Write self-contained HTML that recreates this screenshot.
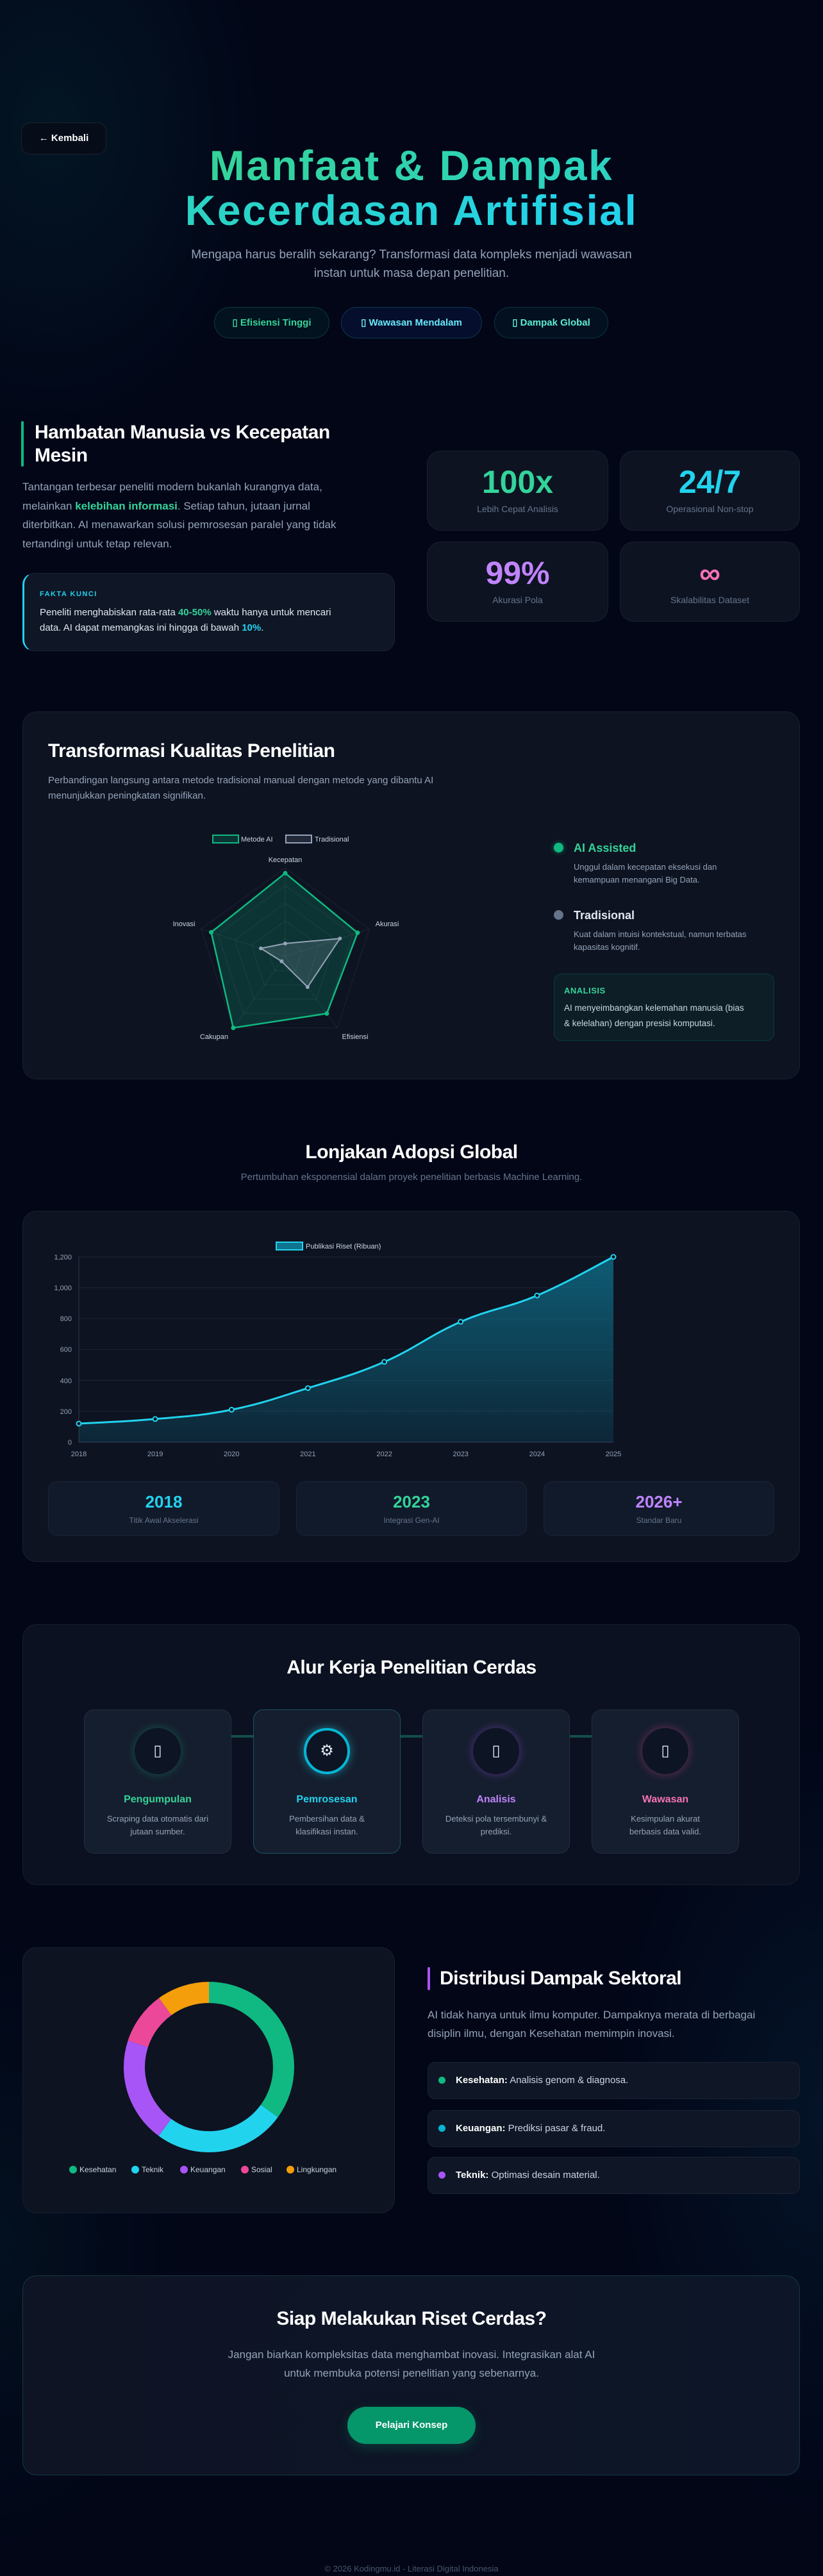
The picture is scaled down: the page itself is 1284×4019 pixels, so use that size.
<!DOCTYPE html>
<html><head><meta charset="utf-8">
<style>
*{margin:0;padding:0;box-sizing:border-box}
html,body{width:1284px;height:4019px;overflow:hidden}
body{position:relative;font-family:"Liberation Sans",sans-serif;color:#e2e8f0;
background:
radial-gradient(ellipse 500px 700px at 80px 200px, rgba(6,50,60,0.35), rgba(0,0,0,0) 70%),
radial-gradient(ellipse 500px 900px at 1284px 3300px, rgba(8,45,70,0.35), rgba(0,0,0,0) 70%),
radial-gradient(ellipse 400px 700px at 0px 3500px, rgba(6,40,50,0.3), rgba(0,0,0,0) 70%),
#020617;}
.a{position:absolute;white-space:nowrap}
.card{position:absolute;background:#0d1321;border:1px solid rgba(148,163,184,0.09);border-radius:22px}
.c{text-align:center}
.muted{color:#94a3b8}
.h2{font-size:30px;font-weight:700;color:#fff;letter-spacing:-0.5px}
svg text{font-family:"Liberation Sans",sans-serif}
</style></head><body>

<!-- HERO -->
<div class="a" style="left:33px;top:191px;width:133px;height:50px;border:1px solid rgba(148,163,184,0.14);border-radius:14px;background:#070d18;color:#fff;font-size:15px;font-weight:700;line-height:48px;text-align:center">← Kembali</div>
<div class="a c" style="left:0;top:223px;width:1284px;font-size:66px;font-weight:700;line-height:70px;letter-spacing:2.5px;">
<span style="background:linear-gradient(90deg,#34d399,#22d3ee);-webkit-background-clip:text;background-clip:text;color:transparent">Manfaat &amp; Dampak<br>Kecerdasan Artifisial</span></div>
<div class="a c muted" style="left:0;top:383px;width:1284px;font-size:19px;line-height:29px">Mengapa harus beralih sekarang? Transformasi data kompleks menjadi wawasan<br>instan untuk masa depan penelitian.</div>
<div class="a c" style="left:334px;top:479px;width:180px;height:49px;border-radius:25px;border:1px solid rgba(52,211,153,0.22);background:rgba(16,185,129,0.07);color:#34d399;font-size:15px;font-weight:700;line-height:47px">▯ Efisiensi Tinggi</div>
<div class="a c" style="left:532px;top:479px;width:220px;height:49px;border-radius:25px;border:1px solid rgba(34,211,238,0.22);background:rgba(30,64,175,0.14);color:#67e8f9;font-size:15px;font-weight:700;line-height:47px">▯ Wawasan Mendalam</div>
<div class="a c" style="left:771px;top:479px;width:178px;height:49px;border-radius:25px;border:1px solid rgba(45,212,191,0.2);background:rgba(20,184,166,0.06);color:#5eead4;font-size:15px;font-weight:700;line-height:47px">▯ Dampak Global</div>

<!-- SECTION 2 -->
<div class="a" style="left:33px;top:657px;width:4px;height:71px;background:#10b981;border-radius:2px"></div>
<div class="a h2" style="left:54px;top:657px;line-height:36px">Hambatan Manusia vs Kecepatan<br>Mesin</div>
<div class="a muted" style="left:35px;top:745px;font-size:17px;line-height:29.5px">Tantangan terbesar peneliti modern bukanlah kurangnya data,<br>melainkan <b style="color:#34d399">kelebihan informasi</b>. Setiap tahun, jutaan jurnal<br>diterbitkan. AI menawarkan solusi pemrosesan paralel yang tidak<br>tertandingi untuk tetap relevan.</div>
<div class="a" style="left:35px;top:894px;width:581px;height:122px;border-radius:18px;background:#0f1626;border:1px solid rgba(148,163,184,0.1);border-left:3px solid #22d3ee"></div>
<div class="a" style="left:62px;top:920px;font-size:11px;font-weight:700;color:#22d3ee;letter-spacing:1.5px;line-height:14px">FAKTA KUNCI</div>
<div class="a" style="left:62px;top:944px;font-size:15px;line-height:24px;color:#e2e8f0">Peneliti menghabiskan rata-rata <b style="color:#34d399">40-50%</b> waktu hanya untuk mencari<br>data. AI dapat memangkas ini hingga di bawah <b style="color:#22d3ee">10%</b>.</div>

<div class="card" style="left:666px;top:703px;width:283px;height:125px"></div>
<div class="card" style="left:967px;top:703px;width:281px;height:125px"></div>
<div class="card" style="left:666px;top:845px;width:283px;height:125px"></div>
<div class="card" style="left:967px;top:845px;width:281px;height:125px"></div>
<div class="a c" style="left:666px;top:722px;width:283px;font-size:50px;font-weight:700;line-height:60px;color:#34d399">100x</div>
<div class="a c" style="left:967px;top:722px;width:281px;font-size:50px;font-weight:700;line-height:60px;color:#22d3ee">24/7</div>
<div class="a c" style="left:666px;top:864px;width:283px;font-size:50px;font-weight:700;line-height:60px;color:#c084fc">99%</div>
<div class="a c" style="left:967px;top:864px;width:281px;font-size:46px;font-weight:700;line-height:60px;color:#f472b6">∞</div>
<div class="a c" style="left:666px;top:785px;width:283px;font-size:14px;color:#64748b;line-height:18px">Lebih Cepat Analisis</div>
<div class="a c" style="left:967px;top:785px;width:281px;font-size:14px;color:#64748b;line-height:18px">Operasional Non-stop</div>
<div class="a c" style="left:666px;top:927px;width:283px;font-size:14px;color:#64748b;line-height:18px">Akurasi Pola</div>
<div class="a c" style="left:967px;top:927px;width:281px;font-size:14px;color:#64748b;line-height:18px">Skalabilitas Dataset</div>

<!-- SECTION 3 radar card -->
<div class="card" style="left:35px;top:1110px;width:1213px;height:574px"></div>
<div class="a h2" style="left:75px;top:1152px;line-height:40px">Transformasi Kualitas Penelitian</div>
<div class="a muted" style="left:75px;top:1206px;font-size:15px;line-height:24px">Perbandingan langsung antara metode tradisional manual dengan metode yang dibantu AI<br>menunjukkan peningkatan signifikan.</div>
<div class="a" style="left:864px;top:1315px;width:15px;height:15px;border-radius:50%;background:#10b981;box-shadow:0 0 8px rgba(16,185,129,0.6)"></div>
<div class="a" style="left:895px;top:1311px;font-size:18px;font-weight:700;color:#34d399;line-height:24px">AI Assisted</div>
<div class="a muted" style="left:895px;top:1343px;font-size:13px;line-height:20px">Unggul dalam kecepatan eksekusi dan<br>kemampuan menangani Big Data.</div>
<div class="a" style="left:864px;top:1420px;width:15px;height:15px;border-radius:50%;background:#64748b"></div>
<div class="a" style="left:895px;top:1416px;font-size:18px;font-weight:700;color:#e2e8f0;line-height:24px">Tradisional</div>
<div class="a muted" style="left:895px;top:1448px;font-size:13px;line-height:20px">Kuat dalam intuisi kontekstual, namun terbatas<br>kapasitas kognitif.</div>
<div class="a" style="left:864px;top:1519px;width:344px;height:105px;border-radius:12px;background:rgba(16,185,129,0.07);border:1px solid rgba(16,185,129,0.2)"></div>
<div class="a" style="left:880px;top:1538px;font-size:13px;font-weight:700;color:#34d399;line-height:16px;letter-spacing:0.5px">ANALISIS</div>
<div class="a" style="left:880px;top:1561px;font-size:13.5px;color:#cbd5e1;line-height:24px">AI menyeimbangkan kelemahan manusia (bias<br>&amp; kelelahan) dengan presisi komputasi.</div>

<!-- SECTION 4 line chart -->
<div class="a c h2" style="left:0;top:1778px;width:1284px;line-height:40px">Lonjakan Adopsi Global</div>
<div class="a c" style="left:0;top:1827px;width:1284px;font-size:15px;color:#64748b;line-height:20px">Pertumbuhan eksponensial dalam proyek penelitian berbasis Machine Learning.</div>
<div class="card" style="left:35px;top:1889px;width:1213px;height:548px"></div>
<div class="a" style="left:75px;top:2311px;width:361px;height:85px;border-radius:14px;background:#111a2b;border:1px solid rgba(148,163,184,0.08)"></div>
<div class="a" style="left:462px;top:2311px;width:360px;height:85px;border-radius:14px;background:#111a2b;border:1px solid rgba(148,163,184,0.08)"></div>
<div class="a" style="left:848px;top:2311px;width:360px;height:85px;border-radius:14px;background:#111a2b;border:1px solid rgba(148,163,184,0.08)"></div>
<div class="a c" style="left:75px;top:2328px;width:361px;font-size:26px;font-weight:700;color:#22d3ee;line-height:30px">2018</div>
<div class="a c" style="left:462px;top:2328px;width:360px;font-size:26px;font-weight:700;color:#34d399;line-height:30px">2023</div>
<div class="a c" style="left:848px;top:2328px;width:360px;font-size:26px;font-weight:700;color:#c084fc;line-height:30px">2026+</div>
<div class="a c" style="left:75px;top:2364px;width:361px;font-size:12px;color:#64748b;line-height:16px">Titik Awal Akselerasi</div>
<div class="a c" style="left:462px;top:2364px;width:360px;font-size:12px;color:#64748b;line-height:16px">Integrasi Gen-AI</div>
<div class="a c" style="left:848px;top:2364px;width:360px;font-size:12px;color:#64748b;line-height:16px">Standar Baru</div>

<!-- SECTION 5 workflow -->
<div class="card" style="left:35px;top:2534px;width:1213px;height:407px;background:#0b1120"></div>
<div class="a c h2" style="left:0;top:2582px;width:1284px;line-height:40px">Alur Kerja Penelitian Cerdas</div>
<div class="a" style="left:361px;top:2707px;width:34px;height:4px;background:#134e4a"></div>
<div class="a" style="left:625px;top:2707px;width:34px;height:4px;background:#134e4a"></div>
<div class="a" style="left:889px;top:2707px;width:34px;height:4px;background:#134e4a"></div>
<div class="a" style="left:131px;top:2667px;width:230px;height:225px;border-radius:16px;background:#151e2e;border:1px solid rgba(148,163,184,0.12)"></div>
<div class="a" style="left:395px;top:2667px;width:230px;height:225px;border-radius:16px;background:#151e2e;border:1px solid rgba(34,211,238,0.3)"></div>
<div class="a" style="left:659px;top:2667px;width:230px;height:225px;border-radius:16px;background:#151e2e;border:1px solid rgba(148,163,184,0.12)"></div>
<div class="a" style="left:923px;top:2667px;width:230px;height:225px;border-radius:16px;background:#151e2e;border:1px solid rgba(148,163,184,0.12)"></div>
<div class="a c" style="left:210px;top:2696px;width:72px;height:72px;border-radius:50%;background:#0d1424;box-shadow:0 0 14px rgba(16,185,129,0.35);color:#e2e8f0;font-size:24px;line-height:72px">▯</div>
<div class="a c" style="left:474px;top:2696px;width:72px;height:72px;border-radius:50%;background:#0d1424;border:4px solid #06b6d4;box-shadow:0 0 14px rgba(34,211,238,0.5);color:#e2e8f0;font-size:24px;line-height:64px">⚙</div>
<div class="a c" style="left:738px;top:2696px;width:72px;height:72px;border-radius:50%;background:#0d1424;box-shadow:0 0 14px rgba(168,85,247,0.4);color:#e2e8f0;font-size:24px;line-height:72px">▯</div>
<div class="a c" style="left:1002px;top:2696px;width:72px;height:72px;border-radius:50%;background:#0d1424;box-shadow:0 0 14px rgba(236,72,153,0.4);color:#e2e8f0;font-size:24px;line-height:72px">▯</div>
<div class="a c" style="left:131px;top:2797px;width:230px;font-size:16px;font-weight:700;color:#34d399;line-height:22px">Pengumpulan</div>
<div class="a c" style="left:395px;top:2797px;width:230px;font-size:16px;font-weight:700;color:#22d3ee;line-height:22px">Pemrosesan</div>
<div class="a c" style="left:659px;top:2797px;width:230px;font-size:16px;font-weight:700;color:#c084fc;line-height:22px">Analisis</div>
<div class="a c" style="left:923px;top:2797px;width:230px;font-size:16px;font-weight:700;color:#f472b6;line-height:22px">Wawasan</div>
<div class="a c muted" style="left:131px;top:2828px;width:230px;font-size:13px;line-height:20px">Scraping data otomatis dari<br>jutaan sumber.</div>
<div class="a c muted" style="left:395px;top:2828px;width:230px;font-size:13px;line-height:20px">Pembersihan data &amp;<br>klasifikasi instan.</div>
<div class="a c muted" style="left:659px;top:2828px;width:230px;font-size:13px;line-height:20px">Deteksi pola tersembunyi &amp;<br>prediksi.</div>
<div class="a c muted" style="left:923px;top:2828px;width:230px;font-size:13px;line-height:20px">Kesimpulan akurat<br>berbasis data valid.</div>

<!-- SECTION 6 donut -->
<div class="card" style="left:35px;top:3038px;width:581px;height:415px"></div>
<div class="a" style="left:667px;top:3069px;width:4px;height:36px;background:#a855f7;border-radius:2px"></div>
<div class="a h2" style="left:686px;top:3067px;line-height:40px">Distribusi Dampak Sektoral</div>
<div class="a muted" style="left:667px;top:3129px;font-size:17px;line-height:29px">AI tidak hanya untuk ilmu komputer. Dampaknya merata di berbagai<br>disiplin ilmu, dengan Kesehatan memimpin inovasi.</div>
<div class="a" style="left:667px;top:3217px;width:581px;height:58px;border-radius:12px;background:#0f1626;border:1px solid rgba(148,163,184,0.09)"></div>
<div class="a" style="left:667px;top:3292px;width:581px;height:58px;border-radius:12px;background:#0f1626;border:1px solid rgba(148,163,184,0.09)"></div>
<div class="a" style="left:667px;top:3365px;width:581px;height:58px;border-radius:12px;background:#0f1626;border:1px solid rgba(148,163,184,0.09)"></div>
<div class="a" style="left:684px;top:3240px;width:11px;height:11px;border-radius:50%;background:#10b981"></div>
<div class="a" style="left:684px;top:3315px;width:11px;height:11px;border-radius:50%;background:#06b6d4"></div>
<div class="a" style="left:684px;top:3388px;width:11px;height:11px;border-radius:50%;background:#a855f7"></div>
<div class="a" style="left:711px;top:3236px;font-size:15px;line-height:20px;color:#cbd5e1"><b style="color:#fff">Kesehatan:</b> Analisis genom &amp; diagnosa.</div>
<div class="a" style="left:711px;top:3311px;font-size:15px;line-height:20px;color:#cbd5e1"><b style="color:#fff">Keuangan:</b> Prediksi pasar &amp; fraud.</div>
<div class="a" style="left:711px;top:3384px;font-size:15px;line-height:20px;color:#cbd5e1"><b style="color:#fff">Teknik:</b> Optimasi desain material.</div>

<!-- CTA -->
<div class="a" style="left:35px;top:3550px;width:1213px;height:312px;border-radius:22px;background:linear-gradient(90deg,#0e1424,#0d1628);border:1px solid rgba(45,212,191,0.18)"></div>
<div class="a c" style="left:0;top:3598px;width:1284px;font-size:30px;font-weight:700;color:#fff;line-height:40px;letter-spacing:-0.5px">Siap Melakukan Riset Cerdas?</div>
<div class="a c muted" style="left:0;top:3659px;width:1284px;font-size:17px;line-height:29px">Jangan biarkan kompleksitas data menghambat inovasi. Integrasikan alat AI<br>untuk membuka potensi penelitian yang sebenarnya.</div>
<div class="a c" style="left:542px;top:3755px;width:200px;height:58px;border-radius:29px;background:#059669;color:#fff;font-size:15px;font-weight:700;line-height:58px;box-shadow:0 6px 18px rgba(5,150,105,0.25)">Pelajari Konsep</div>
<div class="a c" style="left:0;top:3999px;width:1284px;font-size:13px;color:#475569;line-height:18px">© 2026 Kodingmu.id - Literasi Digital Indonesia</div>

<!-- CHARTS OVERLAY -->
<svg class="a" style="left:0;top:0" width="1284" height="4019" viewBox="0 0 1284 4019">
<!-- radar -->
<g fill="none" stroke="rgba(255,255,255,0.07)" stroke-width="1">
<polygon points="445,1354 576.2,1449.4 526.1,1603.6 363.9,1603.6 313.8,1449.4"/>
<polygon points="445,1381.6 550,1457.9 509.9,1581.3 380.1,1581.3 340,1457.9"/>
<polygon points="445,1409.2 523.7,1466.4 493.7,1559 396.3,1559 366.3,1466.4"/>
<polygon points="445,1436.8 497.5,1474.9 477.5,1536.7 412.5,1536.7 392.5,1474.9"/>
<polygon points="445,1464.4 471.2,1483.5 461.2,1514.3 428.8,1514.3 418.8,1483.5"/>
<line x1="445" y1="1492" x2="445" y2="1354"/><line x1="445" y1="1492" x2="576.2" y2="1449.4"/><line x1="445" y1="1492" x2="526.1" y2="1603.6"/><line x1="445" y1="1492" x2="363.9" y2="1603.6"/><line x1="445" y1="1492" x2="313.8" y2="1449.4"/>
</g>
<polygon points="445,1362.3 557.9,1455.3 509.9,1581.3 363.9,1603.6 329.5,1454.5" fill="rgba(16,185,129,0.2)" stroke="#10b981" stroke-width="2.5"/>
<polygon points="445,1472 530.3,1464.3 479.9,1540 439.3,1499.8 407,1479.6" fill="rgba(148,163,184,0.2)" stroke="#94a3b8" stroke-width="2"/>
<g fill="#10b981"><circle cx="445" cy="1362.3" r="3.5"/><circle cx="557.9" cy="1455.3" r="3.5"/><circle cx="509.9" cy="1581.3" r="3.5"/><circle cx="363.9" cy="1603.6" r="3.5"/><circle cx="329.5" cy="1454.5" r="3.5"/></g>
<g fill="#94a3b8"><circle cx="445" cy="1472" r="3"/><circle cx="530.3" cy="1464.3" r="3"/><circle cx="479.9" cy="1540" r="3"/><circle cx="439.3" cy="1499.8" r="3"/><circle cx="407" cy="1479.6" r="3"/></g>
<g font-size="11" fill="#cbd5e1" text-anchor="middle">
<text x="445" y="1345">Kecepatan</text><text x="604" y="1445">Akurasi</text><text x="287" y="1445">Inovasi</text><text x="334" y="1621">Cakupan</text><text x="554" y="1621">Efisiensi</text>
</g>
<rect x="332" y="1303" width="40" height="12" fill="rgba(16,185,129,0.2)" stroke="#10b981" stroke-width="2"/>
<text x="376" y="1313" font-size="11" fill="#cbd5e1">Metode AI</text>
<rect x="446" y="1303" width="40" height="12" fill="rgba(148,163,184,0.15)" stroke="#94a3b8" stroke-width="2"/>
<text x="491" y="1313" font-size="11" fill="#cbd5e1">Tradisional</text>

<!-- line chart -->
<defs><linearGradient id="lg" x1="0" y1="1961" x2="0" y2="2250" gradientUnits="userSpaceOnUse"><stop offset="0" stop-color="#0e7490" stop-opacity="0.75"/><stop offset="1" stop-color="#0e7490" stop-opacity="0.2"/></linearGradient></defs>
<g stroke="rgba(148,163,184,0.13)" stroke-width="1">
<line x1="123" y1="1961" x2="957" y2="1961"/><line x1="123" y1="2009" x2="957" y2="2009"/><line x1="123" y1="2057.2" x2="957" y2="2057.2"/><line x1="123" y1="2105.4" x2="957" y2="2105.4"/><line x1="123" y1="2153.6" x2="957" y2="2153.6"/><line x1="123" y1="2201.8" x2="957" y2="2201.8"/><line x1="123" y1="2250" x2="957" y2="2250" stroke="rgba(148,163,184,0.3)"/>
<line x1="123" y1="1961" x2="123" y2="2250" stroke="rgba(148,163,184,0.25)"/>
</g>
<path d="M123,2221.1 C146.8,2219.7 194.4,2218.2 242.1,2213.9 C289.8,2209.6 313.6,2209 361.3,2199.4 C409,2189.8 432.7,2180.6 480.4,2165.7 C528.1,2150.8 551.9,2145.5 599.6,2124.8 C647.3,2104.1 671,2082.9 718.7,2062.2 C766.4,2041.5 790.2,2041.4 837.9,2021.2 C885.6,2001 933.2,1973 957,1961 L957,2250 L123,2250 Z" fill="url(#lg)"/>
<path d="M123,2221.1 C146.8,2219.7 194.4,2218.2 242.1,2213.9 C289.8,2209.6 313.6,2209 361.3,2199.4 C409,2189.8 432.7,2180.6 480.4,2165.7 C528.1,2150.8 551.9,2145.5 599.6,2124.8 C647.3,2104.1 671,2082.9 718.7,2062.2 C766.4,2041.5 790.2,2041.4 837.9,2021.2 C885.6,2001 933.2,1973 957,1961" fill="none" stroke="#22d3ee" stroke-width="3"/>
<g fill="#0d1321" stroke="#22d3ee" stroke-width="2">
<circle cx="123" cy="2221.1" r="3.5"/><circle cx="242.1" cy="2213.9" r="3.5"/><circle cx="361.3" cy="2199.4" r="3.5"/><circle cx="480.4" cy="2165.7" r="3.5"/><circle cx="599.6" cy="2124.8" r="3.5"/><circle cx="718.7" cy="2062.2" r="3.5"/><circle cx="837.9" cy="2021.2" r="3.5"/><circle cx="957" cy="1961" r="3.5"/>
</g>
<g font-size="11" fill="#94a3b8" text-anchor="end">
<text x="112" y="1965">1,200</text><text x="112" y="2013">1,000</text><text x="112" y="2061">800</text><text x="112" y="2109">600</text><text x="112" y="2158">400</text><text x="112" y="2206">200</text><text x="112" y="2254">0</text>
</g>
<g font-size="11" fill="#94a3b8" text-anchor="middle">
<text x="123" y="2272">2018</text><text x="242.1" y="2272">2019</text><text x="361.3" y="2272">2020</text><text x="480.4" y="2272">2021</text><text x="599.6" y="2272">2022</text><text x="718.7" y="2272">2023</text><text x="837.9" y="2272">2024</text><text x="957" y="2272">2025</text>
</g>
<rect x="431" y="1938" width="41" height="12" fill="#0e7490" stroke="#22d3ee" stroke-width="2"/>
<text x="477" y="1948" font-size="11" fill="#cbd5e1">Publikasi Riset (Ribuan)</text>

<!-- donut r=116.5 C=731.99 -->
<g fill="none" stroke-width="33" transform="rotate(-90 326 3225)">
<circle cx="326" cy="3225" r="116.5" stroke="#10b981" stroke-dasharray="256.2 731.99" stroke-dashoffset="0"/>
<circle cx="326" cy="3225" r="116.5" stroke="#22d3ee" stroke-dasharray="183 731.99" stroke-dashoffset="-256.2"/>
<circle cx="326" cy="3225" r="116.5" stroke="#a855f7" stroke-dasharray="146.4 731.99" stroke-dashoffset="-439.2"/>
<circle cx="326" cy="3225" r="116.5" stroke="#ec4899" stroke-dasharray="73.2 731.99" stroke-dashoffset="-585.6"/>
<circle cx="326" cy="3225" r="116.5" stroke="#f59e0b" stroke-dasharray="73.2 731.99" stroke-dashoffset="-658.8"/>
</g>
<g font-size="12" fill="#cbd5e1">
<circle cx="114" cy="3385" r="6" fill="#10b981"/><text x="124" y="3389">Kesehatan</text>
<circle cx="211" cy="3385" r="6" fill="#22d3ee"/><text x="221" y="3389">Teknik</text>
<circle cx="287" cy="3385" r="6" fill="#a855f7"/><text x="297" y="3389">Keuangan</text>
<circle cx="382" cy="3385" r="6" fill="#ec4899"/><text x="392" y="3389">Sosial</text>
<circle cx="453" cy="3385" r="6" fill="#f59e0b"/><text x="463" y="3389">Lingkungan</text>
</g>
</svg>
</body></html>
